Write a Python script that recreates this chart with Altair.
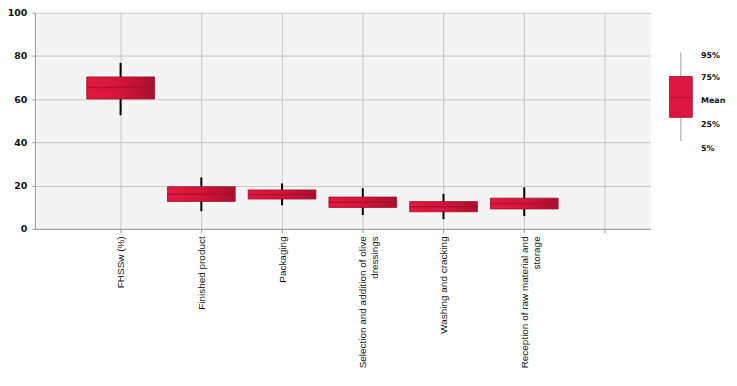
import altair as alt
import pandas as pd

# ---- data ----
cat_lines = [
    ["FHSSw (%)"],
    ["Finished product"],
    ["Packaging"],
    ["Selection and addition of olive", "dressings"],
    ["Washing and cracking"],
    ["Reception of raw material and", "storage"],
]
p5 = [52.6, 8.2, 10.9, 6.4, 4.5, 5.9]
p25 = [60.1, 12.7, 13.8, 9.9, 7.9, 9.2]
mean = [65.4, 16.0, 15.9, 12.3, 10.2, 11.7]
p75 = [70.3, 19.5, 18.0, 14.7, 12.6, 14.2]
p95 = [76.8, 23.8, 21.0, 18.8, 16.2, 19.2]
y_ticks = [0, 20, 40, 60, 80, 100]
x_grid = [1, 2, 3, 4, 5, 6, 7]

# legend key (drawn to the right of the plot, in the same scales)
legend_text = ["95%", "75%", "Mean", "25%", "5%"]
legend_text_pos = [80.2, 70.0, 59.0, 47.9, 36.9]
legend_whisker = [40.6, 81.6]
legend_box = [51.6, 70.5]
legend_mean = 60.8
legend_box_x = 7.94
legend_text_x = 8.19

# ---- tables ----
idx = list(range(1, len(cat_lines) + 1))
df = pd.DataFrame({"idx": idx, "p5": p5, "p25": p25, "mean": mean, "p75": p75, "p95": p95})


def js_arr(lines):
    return "[" + ",".join("'" + s.replace("'", "\\'") + "'" for s in lines) + "]"


label_expr = ""
for i, lines in zip(idx, cat_lines):
    label_expr += f"datum.value == {i} ? {js_arr(lines)} : "
label_expr += "''"

W, H = 618, 217
xs = alt.Scale(domain=[0, 7.5], nice=False, zero=False)
ys = alt.Scale(domain=[0, 100], nice=False)

box_grad = alt.Gradient(
    gradient="linear",
    x1=0, x2=1, y1=0, y2=0,
    stops=[
        alt.GradientStop(color="#e4193f", offset=0),
        alt.GradientStop(color="#d41439", offset=0.5),
        alt.GradientStop(color="#a90f2e", offset=1),
    ],
)

base = alt.Chart(df)

x_enc = alt.X(
    "idx:Q",
    scale=xs,
    axis=alt.Axis(
        values=x_grid,
        labelExpr=label_expr,
        labelAngle=270,
        labelAlign="right",
        labelBaseline="middle",
        labelFont="Liberation Sans",
        labelFontSize=10,
        labelColor="#111111",
        labelPadding=3,
        tickSize=4,
        tickColor="#999999",
        domainColor="#999999",
        gridColor="#c8c8c8",
        grid=True,
        title=None,
        labelOverlap=False,
    ),
)

y_axis = alt.Axis(
    values=y_ticks,
    labelFont="DejaVu Sans",
    labelFontWeight="bold",
    labelFontSize=9.5,
    labelColor="#111111",
    labelPadding=5,
    tickSize=3,
    tickColor="#999999",
    domainColor="#999999",
    gridColor="#c8c8c8",
    grid=True,
    title=None,
)

whisk = base.mark_rule(color="#000000", strokeWidth=2).encode(
    x=x_enc,
    y=alt.Y("p5:Q", scale=ys, axis=y_axis),
    y2="p95:Q",
)
boxes = base.mark_bar(size=68, fill=box_grad, stroke="#a00d2b", strokeWidth=0.8).encode(
    x="idx:Q", y=alt.Y("p25:Q"), y2="p75:Q"
)
means = base.mark_tick(orient="horizontal", size=68, thickness=1.5, color="#a30e2d").encode(
    x="idx:Q", y="mean:Q"
)

# ---- legend key ----
ldf = pd.DataFrame({
    "x": [legend_box_x], "w0": [legend_whisker[0]], "w1": [legend_whisker[1]],
    "b0": [legend_box[0]], "b1": [legend_box[1]], "m": [legend_mean],
})
tdf = pd.DataFrame({"x": [legend_text_x] * len(legend_text), "t": legend_text, "y": legend_text_pos})

lb = alt.Chart(ldf)
l_whisk = lb.mark_rule(color="#a0a0a0", strokeWidth=1).encode(x="x:Q", y="w0:Q", y2="w1:Q")
l_box = lb.mark_bar(size=23, fill="#dc1640", stroke="#a00d2b", strokeWidth=0.8).encode(
    x="x:Q", y="b0:Q", y2="b1:Q"
)
l_mean = lb.mark_tick(orient="horizontal", size=23, thickness=1, color="#a30e2d").encode(
    x="x:Q", y="m:Q"
)
l_text = alt.Chart(tdf).mark_text(
    align="left", baseline="middle", font="DejaVu Sans", fontWeight="bold", fontSize=8, color="#111111"
).encode(x="x:Q", y="y:Q", text="t:N")

chart = alt.layer(whisk, boxes, means, l_whisk, l_box, l_mean, l_text).properties(
    width=W,
    height=H,
    autosize=alt.AutoSizeParams(type="none"),
    padding={"left": 27, "top": 4, "right": 79, "bottom": 147},
    background="#ffffff",
    view=alt.ViewBackground(fill="#f4f4f4", stroke="transparent"),
).configure_view(stroke="transparent")

chart.save("out.html", embed_options={"renderer": "svg", "actions": False})
